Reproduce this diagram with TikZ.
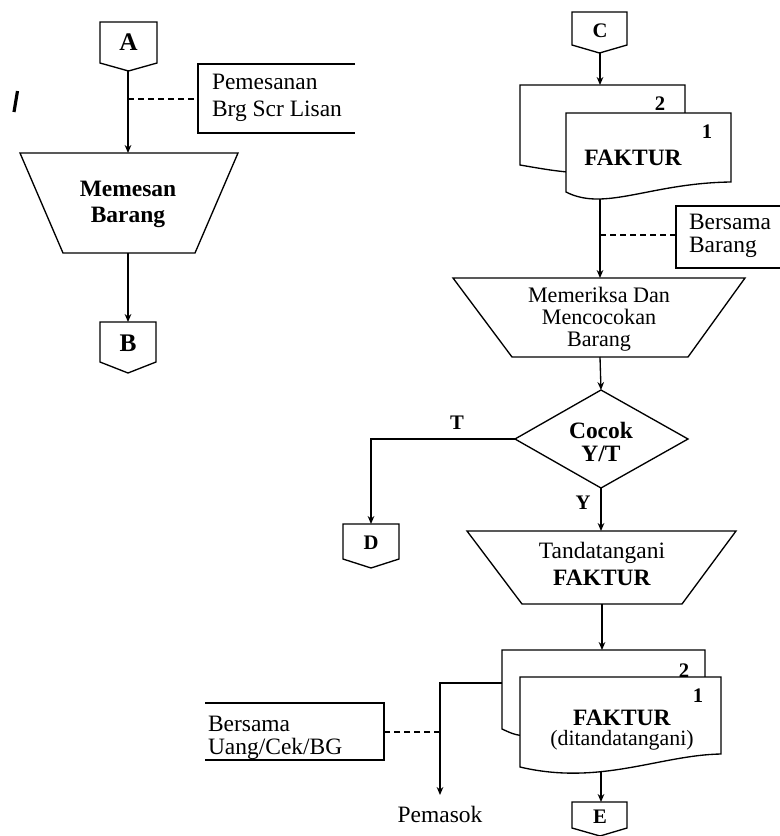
\documentclass[tikz,border=0pt]{standalone}
\usepackage{fontspec}
\setmainfont{Liberation Serif}
\usetikzlibrary{arrows.meta}
\newcommand\fbig{\fontsize{17.6}{17.25}\selectfont}
\newcommand\fmid{\fontsize{16.6}{16.5}\selectfont}
\newcommand\fsml{\fontsize{15.5}{15}\selectfont}
\tikzset{
  ln/.style={line width=1pt, draw=black, line join=miter},
  arr/.style={line width=1pt, draw=black, -{Stealth[length=6pt,width=5pt]}},
  dsh/.style={line width=1pt, draw=black, dash pattern=on 4.5pt off 3pt},
  txt/.style={inner sep=0pt, outer sep=0pt, align=center},
  ltxt/.style={inner sep=0pt, outer sep=0pt, align=left, anchor=west}
}
\begin{document}
\begin{tikzpicture}[x=0.75pt,y=-0.75pt]
\useasboundingbox (0,0) rectangle (780,836);
\fill[white] (0,0) rectangle (780,836);

% stray mark
\draw[line width=2.4pt] (17.5,91) -- (14,112);

% ---------- left column ----------
\draw[ln] (100,22) -- (157,22) -- (157,63) -- (128.5,71) -- (100,63) -- cycle;
\node[txt, font=\fontsize{19}{19}\selectfont\bfseries] (A) at (128.5,42) {A};
\coordinate (Abot) at (128,71);

\draw[ln] (355,64) -- (198,64) -- (198,133) -- (355,133);
\node[ltxt, font=\fontsize{17.6}{20}\selectfont] (ann1) at (212,98) {Pemesanan\\Brg Scr Lisan};
\coordinate (ann1w) at (198,99);
\coordinate (d1) at (128,99);

\draw[ln] (20,153) -- (238,153) -- (195,253) -- (63,253) -- cycle;
\node[txt, font=\fontsize{17.6}{19.5}\selectfont\bfseries] (memesan) at (128,204) {Memesan\\Barang};
\coordinate (T1top) at (128,153);
\coordinate (T1bot) at (128,253);

\draw[ln] (100,322) -- (156,322) -- (156,362) -- (128,373) -- (100,362) -- cycle;
\node[txt, font=\fontsize{19}{19}\selectfont\bfseries] (B) at (128,343) {B};
\coordinate (Btop) at (128,322);

\draw[arr] (Abot) -- (T1top);
\draw[dsh] (d1) -- (ann1w);
\draw[arr] (T1bot) -- (Btop);

% ---------- right column ----------
\draw[ln] (572,12) -- (627,12) -- (627,45) -- (599.5,53) -- (572,45) -- cycle;
\node[txt, font=\fsml\bfseries] (C) at (600,31) {C};
\coordinate (Cbot) at (600,53);

% document 1 (two copies)
\draw[ln] (590,174) .. controls (555,171) .. (520,165) -- (520,85) -- (685,85) -- (685,130);
\node[txt, font=\fsml\bfseries] (two1) at (660,104) {2};
\draw[ln, fill=white] (566,113) -- (731,113) -- (731,182) .. controls (650,183) and (605,212) .. (566,192) -- cycle;
\node[txt, font=\fsml\bfseries] (one1) at (707,132) {1};
\node[txt, font=\fbig\bfseries] (faktur1) at (633,158) {FAKTUR};
\coordinate (Dtop1) at (600,85);
\coordinate (Dbot1) at (600,199);

\draw[arr] (Cbot) -- (Dtop1);

\draw[ln] (781,206) -- (676,206) -- (676,268) -- (781,268);
\node[ltxt, font=\fbig] (ann2) at (689,236) {Bersama\\Barang};
\coordinate (ann2w) at (676,235);
\coordinate (d2) at (600,235);

\draw[ln] (453,278) -- (745,278) -- (688,357) -- (512,357) -- cycle;
\node[txt, font=\fmid] (periksa) at (599,319) {Memeriksa Dan\\Mencocokan\\Barang};
\coordinate (P2top) at (600,278);
\coordinate (P2bot) at (600,357);

\draw[arr] (Dbot1) -- (P2top);
\draw[dsh] (d2) -- (ann2w);

\draw[ln] (601,390) -- (688,439) -- (601,488) -- (515,439) -- cycle;
\node[txt, font=\fbig\bfseries] (cocok) at (601,442) {Cocok\\Y/T};
\coordinate (Xtop) at (601,390);
\coordinate (Xleft) at (515,439);
\coordinate (Xbot) at (601,488);
\draw[arr] (P2bot) -- (Xtop);

\node[txt, font=\fsml\bfseries] (T) at (457,423) {T};
\node[txt, font=\fsml\bfseries] (Y) at (583,503) {Y};

\draw[ln] (343,524) -- (399,524) -- (399,559) -- (371,568) -- (343,559) -- cycle;
\node[txt, font=\fsml\bfseries] (D) at (371,543) {D};
\coordinate (Dtop) at (371,524);
\draw[arr] (Xleft) -| (Dtop);

\draw[ln] (467,531) -- (736,531) -- (682,604) -- (522,604) -- cycle;
\node[txt, font=\fontsize{17.6}{20}\selectfont] (ttd) at (602,564) {Tandatangani\\\textbf{FAKTUR}};
\coordinate (P3top) at (601,531);
\coordinate (P3bot) at (602,604);
\draw[arr] (Xbot) -- (P3top);

% document 2 (two copies)
\draw[ln] (535,737) .. controls (515,735) .. (502,729) -- (502,650) -- (705,650) -- (705,700);
\node[txt, font=\fsml\bfseries] (two2) at (684,671) {2};
\draw[ln, fill=white] (520,677) -- (721,677) -- (721,754) .. controls (660,755) and (600,786) .. (520,767) -- cycle;
\node[txt, font=\fsml\bfseries] (one2) at (698,696) {1};
\node[txt, font=\fontsize{17.6}{15}\selectfont] (faktur2) at (622,730) {\textbf{FAKTUR}\\{\fontsize{16.4}{15}\selectfont(ditandatangani)}};
\coordinate (Dtop2) at (602,650);
\coordinate (Dbot2) at (601,771);
\coordinate (Dleft2) at (502,683);
\draw[arr] (P3bot) -- (Dtop2);

\draw[ln] (572,802) -- (627,802) -- (627,828) -- (600,836) -- (572,828) -- cycle;
\node[txt, font=\fsml\bfseries] (E) at (600,817) {E};
\coordinate (Etop) at (601,802);
\draw[arr] (Dbot2) -- (Etop);

\node[txt, font=\fbig] (pemasok) at (440,814) {Pemasok};
\coordinate (Ptop) at (440,795);
\draw[arr] (Dleft2) -| (Ptop);

\draw[ln] (205,703) -- (384,703) -- (384,760) -- (205,760);
\node[ltxt, font=\fbig] (ann3) at (208,738) {Bersama\\Uang/Cek/BG};
\coordinate (ann3e) at (384,732);
\coordinate (d3) at (440,732);
\draw[dsh] (d3) -- (ann3e);
\end{tikzpicture}
\end{document}
